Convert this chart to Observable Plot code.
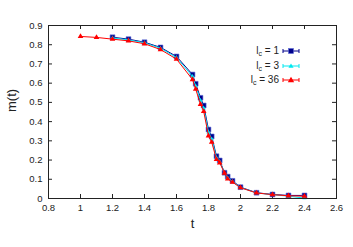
<!DOCTYPE html>
<html>
<head>
<meta charset="utf-8">
<script src="https://cdn.jsdelivr.net/npm/d3@7"></script>
<script src="https://cdn.jsdelivr.net/npm/@observablehq/plot@0.6"></script>
<style>
  html, body { margin: 0; padding: 0; background: #fff; }
</style>
</head>
<body>
<div id="chart"></div>
<script>
const xTicks = [0.8, 1.0, 1.2, 1.4, 1.6, 1.8, 2.0, 2.2, 2.4, 2.6];
const yTicks = [0, 0.1, 0.2, 0.3, 0.4, 0.5, 0.6, 0.7, 0.8, 0.9];

const seriesNames = ["1", "3", "36"];
const seriesColors = ["#00008b", "#00e8f0", "#ff0000"];

const tBlue = [1.2, 1.3, 1.4, 1.5, 1.6, 1.7, 1.72, 1.75, 1.77, 1.8, 1.82, 1.85, 1.87, 1.9, 1.92, 1.95, 2.0, 2.1, 2.2, 2.3, 2.4];
const mBlue = [0.839, 0.829, 0.813, 0.786, 0.739, 0.645, 0.597, 0.524, 0.484, 0.359, 0.323, 0.220, 0.198, 0.134, 0.114, 0.092, 0.059, 0.030, 0.021, 0.016, 0.016];

const tCyan = [1.2, 1.3, 1.4, 1.5, 1.6, 1.7, 1.72, 1.75, 1.77, 1.8, 1.82, 1.85, 1.87, 1.9, 1.92, 1.95, 2.0, 2.1, 2.2, 2.3, 2.4];
const mCyan = [0.835, 0.825, 0.810, 0.782, 0.733, 0.635, 0.585, 0.510, 0.470, 0.345, 0.310, 0.212, 0.192, 0.133, 0.108, 0.088, 0.057, 0.029, 0.020, 0.012, 0.002];

const tRed = [1.0, 1.1, 1.2, 1.3, 1.4, 1.5, 1.6, 1.7, 1.72, 1.75, 1.77, 1.8, 1.82, 1.85, 1.87, 1.9, 1.92, 1.95, 2.0, 2.1, 2.2, 2.3, 2.4];
const mRed = [0.843, 0.838, 0.829, 0.820, 0.805, 0.775, 0.725, 0.619, 0.569, 0.490, 0.453, 0.326, 0.293, 0.203, 0.186, 0.132, 0.102, 0.085, 0.056, 0.029, 0.020, 0.014, 0.012];

const toRows = (ts, ms) => ts.map((t, i) => ({t, m: ms[i]}));
const blue = toRows(tBlue, mBlue);
const cyan = toRows(tCyan, mCyan);
const red = toRows(tRed, mRed);

const W = 353, H = 247;
const mL = 48, mR = 17, mT = 25, mB = 49;
const fw = W - mL - mR, fh = H - mT - mB;
const tk = 4;
const axisColor = "#222";
const fmt = d => String(Math.round(d * 10) / 10);

const chart = Plot.plot({
  width: W,
  height: H,
  marginLeft: mL,
  marginRight: mR,
  marginTop: mT,
  marginBottom: mB,
  style: {fontFamily: "'Liberation Sans', Arial, sans-serif", fontSize: "9.5px", color: "#222", background: "#fff"},
  x: {domain: [0.8, 2.6]},
  y: {domain: [0, 0.9]},
  marks: [
    Plot.axisX(xTicks, {tickSize: 0, tickPadding: 6, tickFormat: fmt, label: null, fill: "#222"}),
    Plot.axisY(yTicks, {tickSize: 0, tickPadding: 6, tickFormat: fmt, label: null, fill: "#222"}),
    Plot.tickX(xTicks, {x: d => d, insetTop: fh - tk, stroke: axisColor}),
    Plot.tickX(xTicks, {x: d => d, insetBottom: fh - tk, stroke: axisColor}),
    Plot.tickY(yTicks, {y: d => d, insetRight: fw - tk, stroke: axisColor}),
    Plot.tickY(yTicks, {y: d => d, insetLeft: fw - tk, stroke: axisColor}),
    Plot.line(blue, {x: "t", y: "m", stroke: seriesColors[0], strokeWidth: 1}),
    Plot.dot(blue, {x: "t", y: "m", symbol: "square", r: 2.7, fill: seriesColors[0], stroke: "#5a6ad8", strokeWidth: 0.6}),
    Plot.line(cyan, {x: "t", y: "m", stroke: seriesColors[1], strokeWidth: 1}),
    Plot.dot(cyan, {x: "t", y: "m", symbol: "triangle", r: 1.6, fill: seriesColors[1]}),
    Plot.line(red, {x: "t", y: "m", stroke: seriesColors[2], strokeWidth: 1}),
    Plot.dot(red, {x: "t", y: "m", symbol: "triangle", r: 2.1, fill: seriesColors[2]}),
    Plot.frame({stroke: axisColor, strokeWidth: 1}),
    Plot.text(["m(t)"], {frameAnchor: "left", rotate: -90, dx: -37, fontSize: 13, fill: "#222"}),
    Plot.text(["t"], {frameAnchor: "bottom", dy: 29, fontSize: 13, fill: "#222"})
  ]
});

document.getElementById("chart").appendChild(chart);

// Legend (top right, gnuplot style with error-bar caps)
const svg = d3.select(chart);
const lg = svg.append("g").attr("font-family", "'Liberation Sans', Arial, sans-serif").attr("font-size", 10);
const textRight = 279, lx1 = 283, lx2 = 299, rowY = [51, 66, 80];
seriesNames.forEach((name, i) => {
  const y = rowY[i];
  const t = lg.append("text").attr("x", textRight).attr("y", y).attr("text-anchor", "end")
    .attr("dominant-baseline", "middle").attr("fill", "#222");
  t.append("tspan").text("l");
  t.append("tspan").attr("font-size", 7).attr("dy", 2.5).text("c");
  t.append("tspan").attr("dy", -2.5).text(" = " + name);
  lg.append("line").attr("x1", lx1).attr("x2", lx2).attr("y1", y).attr("y2", y).attr("stroke", seriesColors[i]);
  [lx1, lx2].forEach(x => lg.append("line").attr("x1", x).attr("x2", x).attr("y1", y - 2).attr("y2", y + 2).attr("stroke", seriesColors[i]));
  const cx = (lx1 + lx2) / 2;
  if (i === 0) {
    lg.append("rect").attr("x", cx - 2.5).attr("y", y - 2.5).attr("width", 5).attr("height", 5).attr("fill", seriesColors[0]).attr("stroke", "#5a6ad8").attr("stroke-width", 0.6);
  } else {
    const s = i === 1 ? 2.6 : 3.2;
    lg.append("path").attr("d", `M${cx},${y - s}L${cx + s},${y + s * 0.7}L${cx - s},${y + s * 0.7}Z`).attr("fill", seriesColors[i]);
  }
});
</script>
</body>
</html>
